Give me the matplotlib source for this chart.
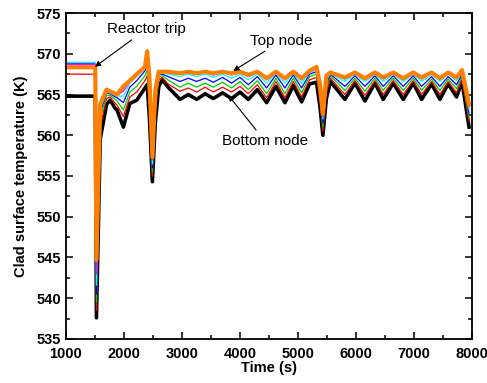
import numpy as np
import matplotlib
matplotlib.use("Agg")
import matplotlib.pyplot as plt
from matplotlib.ticker import MultipleLocator

plt.rcParams['font.family'] = ['Liberation Sans', 'DejaVu Sans']

# time (s) -- points at plateau, trip, peaks and troughs
tempo = [1000, 1505, 1525, 1590, 1700, 1760, 1850, 1880, 1990, 2100, 2220, 2362, 2400, 2440, 2490,
         2540, 2600, 2660, 2760,
         2966, 3110, 3253, 3400, 3540, 3700, 3856, 4000, 4144, 4300, 4460, 4620, 4776, 4920, 5063, 5200,
         5320, 5380, 5430, 5490, 5560,
         5810, 5983, 6155, 6328, 6471, 6643, 6816, 6988, 7133, 7305, 7448, 7591, 7736, 7830, 7950]

no_1 = [564.8, 564.8, 537.6, 559.5, 563.8, 564.3, 563.3, 563.1, 561.0, 563.9, 564.3, 565.8, 566.2, 562.0, 554.3,
        561.5, 566.0, 566.8, 565.9,
        564.4, 565.0, 564.4, 565.1, 564.5, 565.2, 564.5, 565.3, 564.4, 565.6, 564.0, 566.0, 564.0, 566.1, 564.1, 566.3,
        566.5, 563.5, 560.0, 564.5, 566.6,
        564.4, 566.4, 564.2, 566.4, 564.4, 566.4, 564.4, 566.4, 564.4, 566.3, 564.4, 566.3, 564.7, 566.6, 561.0]
no_2 = [567.5, 567.5, 538.5, 561.0, 564.5, 564.7, 563.9, 563.7, 562.3, 564.7, 565.3, 566.7, 567.3, 563.0, 555.0,
        562.5, 566.8, 567.1, 566.3,
        565.4, 565.8, 565.3, 565.9, 565.3, 565.9, 565.3, 566.0, 565.1, 566.2, 564.6, 566.6, 564.6, 566.6, 564.7, 566.8,
        567.1, 564.2, 560.5, 565.2, 567.0,
        565.0, 566.7, 564.9, 566.7, 565.0, 566.7, 565.0, 566.7, 565.0, 566.6, 565.0, 566.6, 565.2, 566.9, 561.7]
no_3 = [568.2, 568.2, 539.5, 562.0, 564.9, 564.9, 564.4, 564.2, 563.1, 565.3, 566.0, 567.3, 568.0, 564.0, 555.5,
        563.3, 567.2, 567.3, 566.8,
        565.9, 566.4, 565.9, 566.4, 565.9, 566.5, 565.8, 566.6, 565.6, 566.7, 565.1, 567.0, 565.1, 567.0, 565.2, 567.2,
        567.5, 564.8, 561.0, 565.8, 567.3,
        565.5, 567.0, 565.4, 567.0, 565.5, 567.0, 565.5, 567.0, 565.5, 566.9, 565.5, 566.9, 565.7, 567.2, 562.2]
no_4 = [568.85, 568.85, 540.5, 562.8, 565.2, 565.1, 564.7, 564.6, 564.0, 565.9, 566.7, 567.9, 568.8, 565.0, 556.0,
        564.0, 567.5, 567.5, 567.2,
        566.6, 567.0, 566.6, 567.0, 566.5, 567.1, 566.4, 567.1, 566.2, 567.2, 565.8, 567.4, 565.8, 567.4, 565.8, 567.5,
        567.8, 565.3, 561.5, 566.3, 567.5,
        566.0, 567.3, 566.0, 567.3, 566.0, 567.3, 566.0, 567.3, 566.0, 567.2, 566.0, 567.2, 566.2, 567.5, 562.7]
no_5 = [568.95, 568.95, 541.6, 563.2, 565.4, 565.2, 564.9, 564.8, 564.8, 566.4, 567.2, 568.2, 569.4, 566.0, 556.5,
        564.7, 567.7, 567.7, 567.5,
        567.2, 567.5, 567.2, 567.5, 567.1, 567.5, 567.0, 567.5, 566.8, 567.5, 566.4, 567.6, 566.4, 567.6, 566.4, 567.7,
        568.0, 565.7, 562.0, 566.8, 567.6,
        566.6, 567.5, 566.6, 567.5, 566.6, 567.5, 566.6, 567.5, 566.6, 567.5, 566.6, 567.5, 566.7, 567.7, 563.2]
no_6 = [568.7, 568.7, 543.0, 563.5, 565.5, 565.3, 565.0, 564.9, 565.4, 566.6, 567.4, 568.3, 569.8, 566.5, 557.0,
        565.2, 567.8, 567.8, 567.7,
        567.5, 567.7, 567.5, 567.7, 567.4, 567.7, 567.4, 567.7, 567.2, 567.7, 566.8, 567.7, 566.8, 567.7, 566.8, 567.8,
        568.2, 566.0, 562.3, 567.1, 567.7,
        566.9, 567.6, 566.9, 567.6, 566.9, 567.6, 566.9, 567.6, 566.9, 567.6, 566.9, 567.6, 567.0, 567.8, 563.5]
no_7 = [568.35, 568.35, 544.7, 563.8, 565.6, 565.4, 565.1, 565.0, 566.0, 566.7, 567.5, 568.4, 570.3, 567.0, 557.3,
        565.5, 567.8, 567.8, 567.8,
        567.6, 567.8, 567.6, 567.8, 567.6, 567.8, 567.6, 567.8, 567.4, 567.8, 567.0, 567.8, 567.0, 567.8, 567.0, 567.9,
        568.4, 566.3, 562.6, 567.3, 567.7,
        567.1, 567.7, 567.0, 567.7, 567.1, 567.7, 567.0, 567.7, 567.1, 567.7, 567.0, 567.7, 567.1, 568.0, 563.8]

series = [no_1, no_2, no_3, no_4, no_5, no_6, no_7]
cores = ["black", "red", "#00cc00", "blue", "cyan", "magenta", "#ff8000"]
larguras = [2.6, 0.9, 0.9, 0.9, 0.9, 0.9, 3.0]

fig = plt.figure(figsize=(4.87, 3.83), dpi=100)
ax = fig.add_axes([0.1355, 0.115, 0.8335, 0.851])

for y, c, lw in zip(series, cores, larguras):
    ax.plot(tempo, y, color=c, lw=lw, solid_joinstyle="round")

ax.set_xlim(1000, 8000)
ax.set_ylim(535, 575)
ax.xaxis.set_major_locator(MultipleLocator(1000))
ax.xaxis.set_minor_locator(MultipleLocator(500))
ax.yaxis.set_major_locator(MultipleLocator(5))
ax.yaxis.set_minor_locator(MultipleLocator(2.5))
ax.tick_params(which="both", direction="in", top=True, right=True, width=1.1)
ax.tick_params(which="major", length=5, labelsize=10.5)
ax.tick_params(which="minor", length=3)
ax.tick_params(axis="x", pad=6)
for lab in ax.get_xticklabels() + ax.get_yticklabels():
    lab.set_fontweight("bold")
for s in ax.spines.values():
    s.set_linewidth(1.3)

ax.set_xlabel("Time (s)", fontsize=10.5, fontweight="bold", labelpad=0)
ax.set_ylabel("Clad surface temperature (K)", fontsize=10.5, fontweight="bold", labelpad=6)

seta = dict(arrowstyle="-|>", color="black", lw=0.8, mutation_scale=8, shrinkA=1, shrinkB=0)
ax.annotate("Reactor trip", xy=(1500, 568.4), xytext=(2380, 573.0), fontsize=11,
            ha="center", va="center", arrowprops=seta)
ax.annotate("Top node", xy=(3885, 567.9), xytext=(4720, 571.6), fontsize=11,
            ha="center", va="center", arrowprops=seta)
ax.annotate("Bottom node", xy=(3800, 564.9), xytext=(4430, 559.3), fontsize=11,
            ha="center", va="center", arrowprops=seta)

plt.savefig("out.png", dpi=100)
